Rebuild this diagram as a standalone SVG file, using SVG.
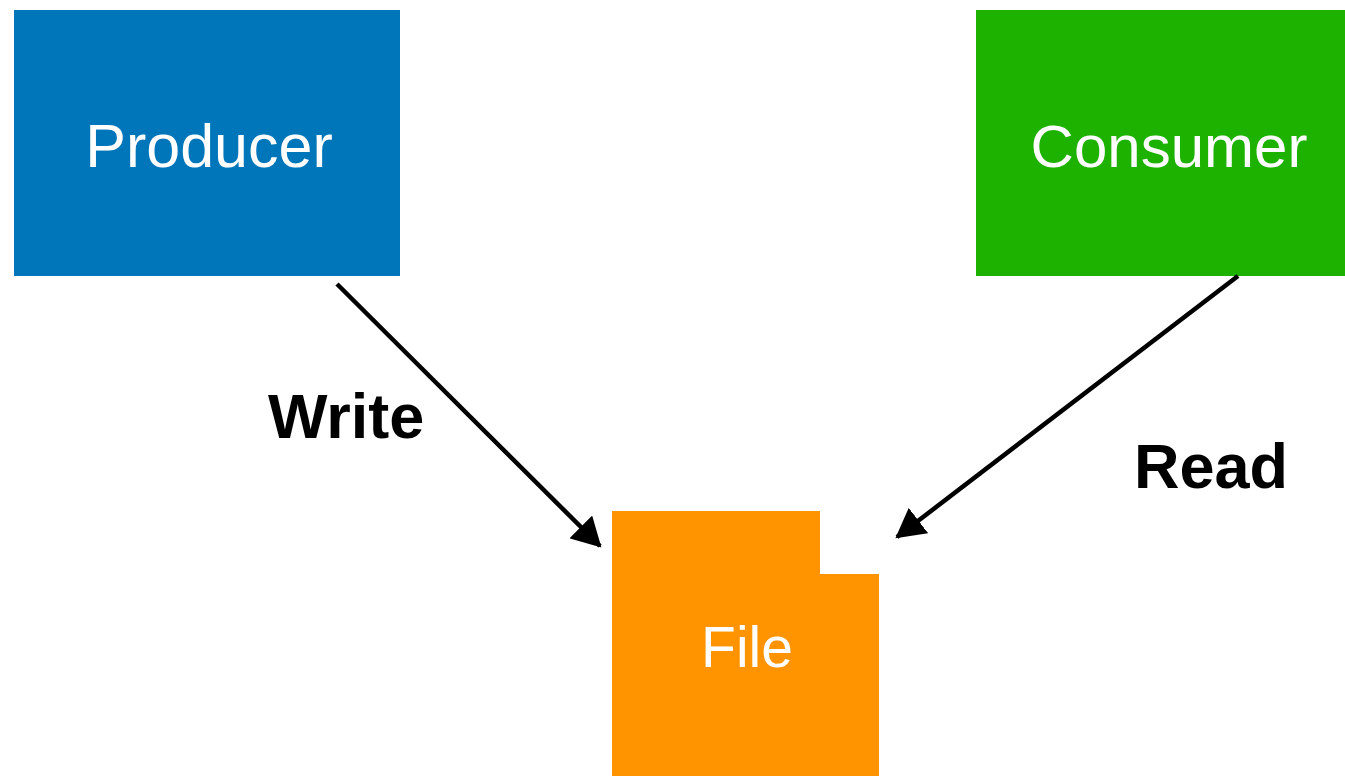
<svg xmlns="http://www.w3.org/2000/svg" width="1345" height="776" viewBox="0 0 1345 776">
  <style>
    .label { font-family: "Liberation Sans", Arial, Helvetica, sans-serif; fill: #FFFFFF; text-anchor: middle; }
    .edge-label { font-family: "Liberation Sans", Arial, Helvetica, sans-serif; font-weight: bold; fill: #000000; }
    .edge { stroke: #000000; stroke-width: 4.5; fill: none; }
  </style>
  <defs>
    <marker id="arrow" markerUnits="userSpaceOnUse" markerWidth="32" markerHeight="32" viewBox="0 0 32 32" refX="27" refY="16" orient="auto">
      <path d="M0,0 L29,16 L0,32 Z" fill="#000000"/>
    </marker>
  </defs>
  <rect width="1345" height="776" fill="#FFFFFF"/>

  <g id="producer">
    <rect x="14" y="10" width="386" height="266" fill="#0076BA"/>
    <text class="label" x="209" y="167" font-size="61">Producer</text>
  </g>

  <g id="consumer">
    <rect x="976" y="10" width="369" height="266" fill="#1DB100"/>
    <text class="label" x="1169" y="167" font-size="60">Consumer</text>
  </g>

  <g id="file">
    <path d="M612,511 H820 V574 H879 V776 H612 Z" fill="#FF9300"/>
    <text class="label" x="747" y="667" font-size="57">File</text>
  </g>

  <g id="connectors">
    <line class="edge" x1="337" y1="284" x2="600" y2="546" marker-end="url(#arrow)"/>
    <line class="edge" x1="1238" y1="276" x2="897" y2="537" marker-end="url(#arrow)"/>
    <text class="edge-label" x="268" y="438" font-size="63">Write</text>
    <text class="edge-label" x="1134" y="488" font-size="63">Read</text>
  </g>
</svg>
